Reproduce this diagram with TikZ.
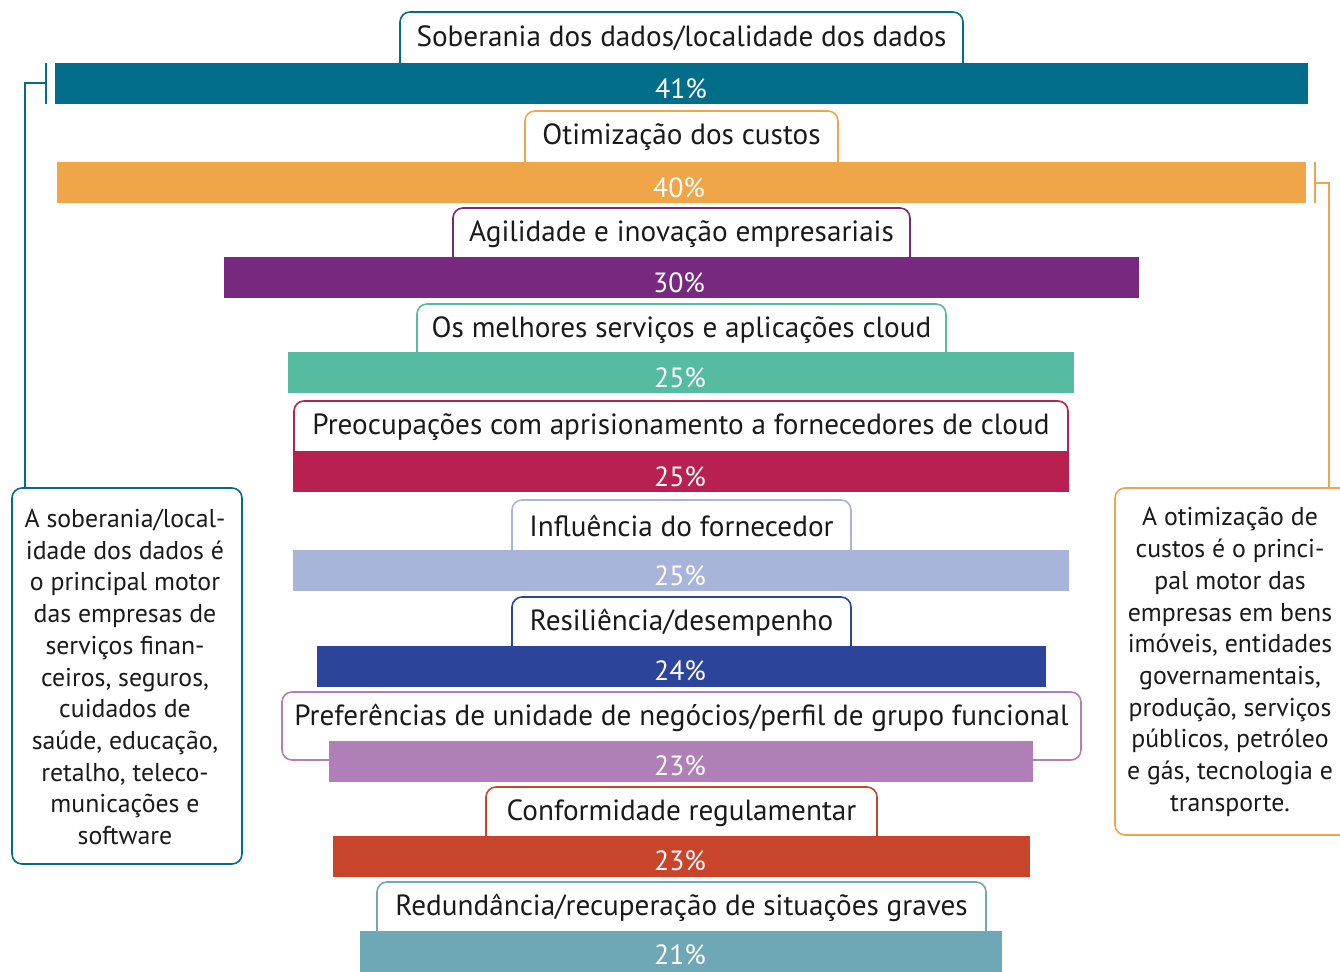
\documentclass[tikz,border=0pt]{standalone}
\usepackage{fontspec}
\setmainfont{PT Sans}
\definecolor{cA}{HTML}{006E8A}
\definecolor{cB}{HTML}{F0A548}
\definecolor{cC}{HTML}{76297F}
\definecolor{cD}{HTML}{55BCA1}
\definecolor{cE}{HTML}{B8204F}
\definecolor{cF}{HTML}{A9B4DA}
\definecolor{cG}{HTML}{2C449A}
\definecolor{cH}{HTML}{B07FB8}
\definecolor{cI}{HTML}{C8442A}
\definecolor{cJ}{HTML}{6EA8B7}
\definecolor{txt}{HTML}{1A1A1A}
\tikzset{
  lbox/.style={draw=#1, line width=1.6pt, rounded corners=10pt, fill=white},
  ltext/.style={text=txt, font=\fontsize{29.2}{33}\selectfont, inner sep=0pt, anchor=center},
  bartext/.style={text=white, font=\fontsize{27.8}{30}\selectfont, inner sep=0pt},
  brk/.style={draw=#1, line width=2pt},
  note/.style={draw=#1, line width=1.6pt, rounded corners=10pt, fill=white},
  notetext/.style={text=txt, font=\fontsize{25.8}{31.7}\selectfont, align=center, inner sep=0pt},
}
% #1 name, #2 colour, #3 box x1, #4 box x2, #5 box top, #6 label, #7 bar x1, #8 bar x2, #9 bar top
\newcommand{\barrow}[9]{%
  \draw[lbox=#2] (#3,#5) rectangle (#4,#9+19);
  \node[ltext] (l#1) at ({(#3+#4)/2},#5+26) {#6};
  \fill[#2] (#7,#9) rectangle (#8,#9+41);
  \coordinate (b#1w) at (#7,#9+20.5);
  \coordinate (b#1e) at (#8,#9+20.5);
}
\begin{document}
\begin{tikzpicture}[x=1pt,y=-1pt]
\useasboundingbox (0,0) rectangle (1340,971);
\barrow{1}{cA}{400}{963}{12}{Soberania dos dados/localidade dos dados}{55}{1308}{63}
\node[bartext] (p1) at (681,89) {41\%};
\barrow{2}{cB}{525}{838}{111}{Otimização dos custos}{57}{1306}{162}
\node[bartext] (p2) at (679,188) {40\%};
\barrow{3}{cC}{453}{910}{208}{Agilidade e inovação empresariais}{224}{1139}{257}
\node[bartext] (p3) at (679,283) {30\%};
\barrow{4}{cD}{417}{946}{304}{Os melhores serviços e aplicações cloud}{288}{1074}{352}
\node[bartext] (p4) at (680,378) {25\%};
\barrow{5}{cE}{294}{1068}{401}{Preocupações com aprisionamento a fornecedores de cloud}{293}{1069}{451}
\node[bartext] (p5) at (680,477) {25\%};
\barrow{6}{cF}{512}{851}{500}{Influência do fornecedor}{293}{1069}{550}
\node[bartext] (p6) at (680,576) {25\%};
\barrow{7}{cG}{512}{851}{597}{Resiliência/desempenho}{317}{1046}{646}
\node[bartext] (p7) at (680,671) {24\%};
\barrow{8}{cH}{282}{1081}{692}{Preferências de unidade de negócios/perfil de grupo funcional}{329}{1033}{741}
\node[bartext] (p8) at (680,766) {23\%};
\barrow{9}{cI}{486}{877}{787}{Conformidade regulamentar}{333}{1030}{836}
\node[bartext] (p9) at (680,861) {23\%};
\barrow{10}{cJ}{377}{986}{882}{Redundância/recuperação de situações graves}{360}{1002}{931}
\node[bartext] (p10) at (680,955) {21\%};

% left note
\draw[note=cA] (12,488) rectangle (242,864);
\node[notetext] (nl) at (125,677) {A soberania/local-\\idade dos dados é\\o principal motor\\das empresas de\\serviços finan-\\ceiros, seguros,\\cuidados de\\saúde, educação,\\retalho, teleco-\\municações e\\software};
% right note
\draw[note=cB] (1115,488) rectangle (1360,835);
\node[notetext] (nr) at (1230,662) {A otimização de\\custos é o princi-\\pal motor das\\empresas em bens\\imóveis, entidades\\governamentais,\\produção, serviços\\públicos, petróleo\\e gás, tecnologia e\\transporte.};

% left bracket
\coordinate (lk1) at (46,63);
\coordinate (lk2) at (46,104);
\coordinate (lk3) at (46,83);
\coordinate (lk4) at (25,83);
\coordinate (lk5) at (25,488);
\draw[brk=cA] (lk1) -- (lk2);
\draw[brk=cA] (lk3) -- (lk4) -- (lk5);
% right bracket
\coordinate (rk1) at (1315,162);
\coordinate (rk2) at (1315,203);
\coordinate (rk3) at (1315,183);
\coordinate (rk4) at (1329,183);
\coordinate (rk5) at (1329,488);
\draw[brk=cB] (rk1) -- (rk2);
\draw[brk=cB] (rk3) -- (rk4) -- (rk5);
\end{tikzpicture}
\end{document}
